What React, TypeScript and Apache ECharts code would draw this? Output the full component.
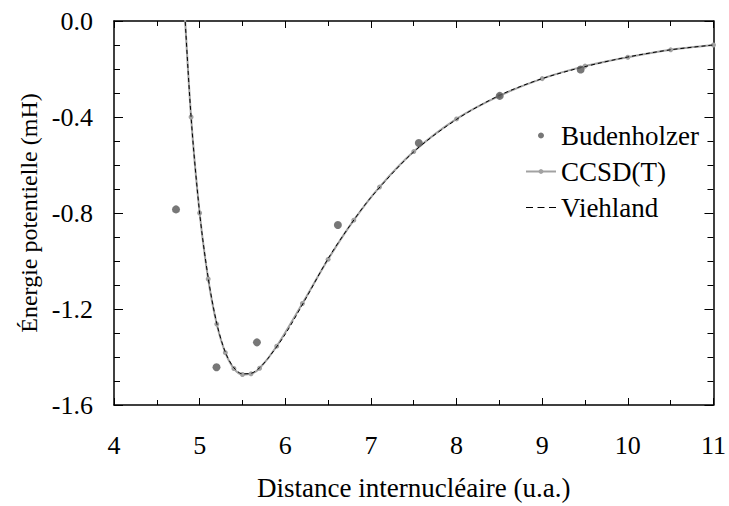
import { useEffect, useRef } from 'react';
import * as echarts from 'echarts';

const FONT = 'Liberation Serif';

// Budenholzer (points)
const budX = [4.724, 5.197, 5.669, 6.614, 7.559, 8.504, 9.449];
const budY = [-0.785, -1.443, -1.339, -0.85, -0.508, -0.312, -0.202];

// CCSD(T) (line with points)
const ccsdX = [4.8, 4.9, 5.0, 5.1, 5.2, 5.3, 5.4, 5.5, 5.6, 5.7, 5.9, 6.2, 6.5, 6.8, 7.1, 7.5, 8.0, 8.5, 9.0, 9.5, 10.0, 10.5, 11.0];
const ccsdY = [0.2, -0.4, -0.8, -1.075, -1.263, -1.382, -1.448, -1.473, -1.47, -1.447, -1.355, -1.177, -0.993, -0.83, -0.692, -0.544, -0.408, -0.312, -0.24, -0.188, -0.151, -0.12, -0.1];

// Viehland (dashed curve)
const vieX = [4.8, 4.9, 5.0, 5.1, 5.2, 5.3, 5.4, 5.5, 5.6, 5.7, 5.8, 6.0, 6.25, 6.5, 6.75, 7.0, 7.5, 8.0, 8.5, 9.0, 9.5, 10.0, 10.5, 11.0];
const vieY = [0.2, -0.4, -0.8, -1.07, -1.26, -1.38, -1.445, -1.47, -1.468, -1.445, -1.405, -1.305, -1.15, -0.99, -0.855, -0.735, -0.545, -0.41, -0.31, -0.24, -0.19, -0.15, -0.12, -0.1];

const xTitle = 'Distance internucléaire (u.a.)';
const yTitle = 'Énergie potentielle (mH)';

const zip = (xs: number[], ys: number[]) => xs.map((x, i) => [x, ys[i]]);

export default function App() {
  const ref = useRef<HTMLDivElement>(null);
  useEffect(() => {
    const chart = echarts.init(ref.current!, null, { renderer: 'svg' });
    const axisLine = { show: true, onZero: false, lineStyle: { color: '#000', width: 1.5 } };
    const xCommon = {
      type: 'value', min: 4, max: 11, interval: 1,
      axisLine,
      axisTick: { show: true, inside: true, length: 7, lineStyle: { color: '#000', width: 1 } },
      minorTick: { show: true, splitNumber: 2, length: 5, lineStyle: { color: '#000', width: 1 } },
      splitLine: { show: false },
      minorSplitLine: { show: false },
    };
    const yCommon = {
      type: 'value', min: -1.6, max: 0, interval: 0.4,
      axisLine,
      axisTick: { show: true, inside: true, length: 9, lineStyle: { color: '#000', width: 1 } },
      minorTick: { show: true, splitNumber: 4, length: 6, lineStyle: { color: '#000', width: 1 } },
      splitLine: { show: false },
      minorSplitLine: { show: false },
    };
    chart.setOption({
      animation: false,
      backgroundColor: '#fff',
      textStyle: { fontFamily: FONT, color: '#000' },
      grid: { left: 114, right: 14, top: 21, bottom: 99, containLabel: false },
      legend: {
        data: [
          { name: 'Budenholzer' },
          { name: 'CCSD(T)' },
          { name: 'Viehland', itemStyle: { opacity: 0 }, lineStyle: { type: [7, 4.5], width: 1, color: '#000' } },
        ],
        orient: 'vertical',
        left: 525,
        top: 122,
        padding: 0,
        itemWidth: 30,
        itemHeight: 6,
        itemGap: 9,
        textStyle: { fontFamily: FONT, fontSize: 27, color: '#000', lineHeight: 27 },
      },
      xAxis: [
        {
          ...xCommon,
          position: 'bottom',
          name: xTitle,
          nameLocation: 'middle',
          nameGap: 69,
          nameTextStyle: { fontFamily: FONT, fontSize: 27, color: '#000' },
          axisLabel: { fontFamily: FONT, fontSize: 26, color: '#000', margin: 27 },
        },
        { ...xCommon, position: 'top', axisLabel: { show: false } },
      ],
      yAxis: [
        {
          ...yCommon,
          position: 'left',
          name: yTitle,
          nameLocation: 'middle',
          nameGap: 72,
          nameTextStyle: { fontFamily: FONT, fontSize: 24, color: '#000' },
          axisLabel: {
            fontFamily: FONT, fontSize: 26, color: '#000', margin: 21,
            formatter: (v: number) => v.toFixed(1),
          },
        },
        { ...yCommon, position: 'right', axisLabel: { show: false } },
      ],
      series: [
        {
          name: 'CCSD(T)',
          type: 'line',
          data: zip(ccsdX, ccsdY),
          smooth: 0.3,
          symbol: 'circle',
          symbolSize: 5,
          showSymbol: true,
          clip: true,
          itemStyle: { color: '#a2a2a2' },
          lineStyle: { color: '#a2a2a2', width: 2 },
          z: 2,
        },
        {
          name: 'Viehland',
          type: 'line',
          data: zip(vieX, vieY),
          smooth: 0.3,
          symbol: 'none',
          clip: true,
          itemStyle: { color: '#000' },
          lineStyle: { color: '#000', width: 1, type: [4, 3] },
          z: 3,
        },
        {
          name: 'Budenholzer',
          type: 'scatter',
          data: zip(budX, budY),
          symbol: 'circle',
          symbolSize: 8,
          itemStyle: { color: '#555555' },
          z: 4,
        },
      ],
    });
    return () => chart.dispose();
  }, []);
  return (
    <div
      ref={ref}
      style={{ position: 'fixed', left: 0, top: 0, width: 729, height: 506, background: '#fff' }}
    />
  );
}
